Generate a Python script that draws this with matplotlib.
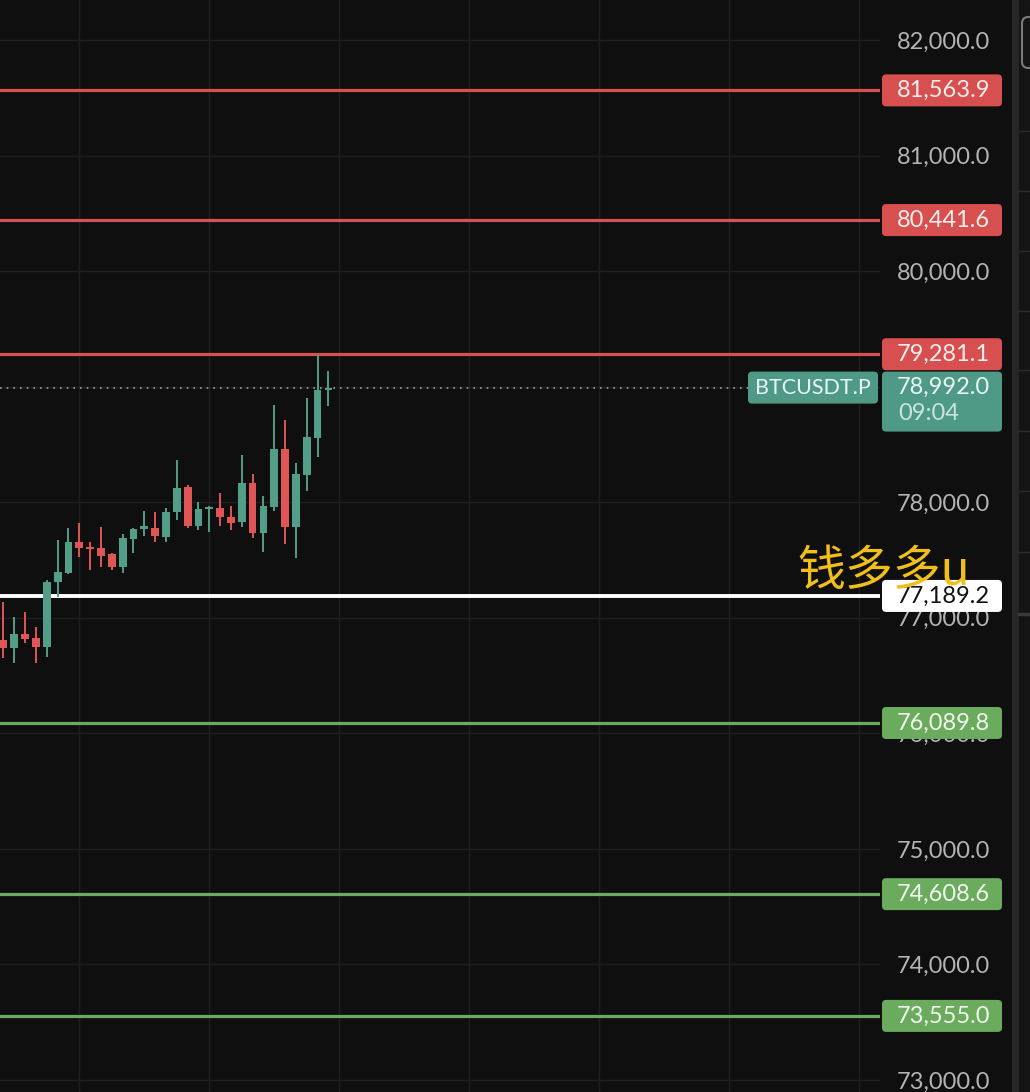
import numpy as np
import matplotlib
matplotlib.use("Agg")
import matplotlib.pyplot as plt
from matplotlib.patches import FancyBboxPatch, Rectangle
from matplotlib.lines import Line2D
from matplotlib.transforms import blended_transform_factory

# velas (OHLC)
opens = [76808, 76739, 76860, 76825, 76747, 77310, 77388, 77656, 77613, 77604, 77552,
         77440, 77682, 77768, 77777, 77699, 77916, 78132, 77794, 77942, 77950, 77872,
         77829, 78166, 77734, 77959, 78461, 77786, 78236, 78556, 78971]
highs = [77137, 77007, 77050, 76920, 77327, 77673, 77777, 77820, 77656, 77786, 77561,
         77725, 77777, 77924, 77916, 77950, 78366, 78149, 78002, 77967, 78080, 77967,
         78409, 78244, 78054, 78842, 78712, 78340, 78902, 79275, 79136]
lows = [76652, 76609, 76782, 76609, 76661, 77180, 77380, 77526, 77414, 77440, 77414,
        77388, 77561, 77708, 77656, 77656, 77846, 77777, 77760, 77742, 77794, 77760,
        77786, 77691, 77569, 77924, 77639, 77517, 78097, 78392, 78833]
closes = [76739, 76860, 76817, 76747, 77310, 77396, 77656, 77604, 77595, 77535, 77440,
          77691, 77768, 77794, 77708, 77916, 78123, 77794, 77942, 77959, 77872, 77820,
          78166, 77734, 77967, 78461, 77786, 78244, 78565, 78971, 78992]

# niveles
resistencias = [81563.9, 80441.6, 79281.1]
soportes = [76089.8, 74608.6, 73555.0]
pivote = 77189.2
precio_actual = 78992.0
simbolo = "BTCUSDT.P"
tiempo = "09:04"
ticks_precio = [73000, 74000, 75000, 76000, 77000, 78000, 79000, 80000, 81000, 82000]
marca = "钱多多u"

BG = "#0f0f0f"
VERDE = "#529e88"
ROJO = "#e05656"
ROJO_LINEA = "#d95050"
VERDE_LINEA = "#6caa60"

W, H = 1030, 1092
fig = plt.figure(figsize=(W / 100, H / 100), dpi=100, facecolor=BG)
ax = fig.add_axes([0, 0, 880 / W, 1])
ax.set_facecolor(BG)

# escala de precios
ymin, ymax = 72896.5, 82346.0
ax.set_ylim(ymin, ymax)
ax.set_xlim(-0.323, 80.93)
datos_por_px = (ymax - ymin) / H

for s in ax.spines.values():
    s.set_visible(False)

# rejilla
ax.set_axisbelow(True)
ax.set_yticks(ticks_precio)
ax.set_yticklabels(["{:,.1f}".format(t) for t in ticks_precio])
ax.set_xticks([7, 19, 31, 43, 55, 67, 79])
ax.set_xticklabels([])
ax.grid(True, color="#1f1f1f", linewidth=1.0)
ax.yaxis.tick_right()
ax.tick_params(axis="y", length=0, pad=79.2, labelsize=17, labelcolor="#b4b4b4")
ax.tick_params(axis="x", length=0)
for lab in ax.get_yticklabels():
    lab.set_horizontalalignment("right")
    lab.set_fontfamily("Lato")

# velas
x = np.arange(len(opens))
o = np.array(opens, dtype=float)
c = np.array(closes, dtype=float)
colores = [VERDE if cc >= oo else ROJO for oo, cc in zip(o, c)]
altura = c - o
altura = np.where(np.abs(altura) < 14, np.where(altura >= 0, 14, -14), altura)
ax.vlines(x, lows, highs, colors=colores, linewidth=1.4, zorder=3)
ax.bar(x, altura, bottom=o, width=0.72, color=colores, zorder=4, linewidth=0)

# lineas horizontales
for r in resistencias:
    ax.axhline(r, color=ROJO_LINEA, linewidth=2.3, zorder=2)
for sp in soportes:
    ax.axhline(sp, color=VERDE_LINEA, linewidth=2.3, zorder=2)
ax.axhline(pivote, color="white", linewidth=2.8, zorder=2)

trans = blended_transform_factory(fig.transFigure, ax.transData)
ax.plot([0, 748 / W], [precio_actual, precio_actual], transform=trans,
        color="#8fa89f", linewidth=1.2, linestyle=(0, (1, 3)), zorder=2)

aspecto = datos_por_px * W


def etiqueta(y, texto, fondo, color_txt, x0=882, x1=1002, arriba=16, abajo=16,
             ha="right", xt=990, tam=17):
    caja = FancyBboxPatch((x0 / W, y - abajo * datos_por_px), (x1 - x0) / W,
                          (arriba + abajo) * datos_por_px,
                          boxstyle="round,pad=0,rounding_size=0.004",
                          mutation_aspect=aspecto, transform=trans,
                          facecolor=fondo, edgecolor="none", clip_on=False, zorder=6)
    ax.add_patch(caja)
    ax.text(xt / W, y, texto, transform=trans, ha=ha, va="center", fontsize=tam,
            color=color_txt, family="Lato", clip_on=False, zorder=7)


for r in resistencias:
    etiqueta(r, "{:,.1f}".format(r), "#d84f4f", "#f7eeee")
for sp in soportes:
    etiqueta(sp, "{:,.1f}".format(sp), "#6aab5e", "#f2f8ef")
etiqueta(pivote, "{:,.1f}".format(pivote), "white", "#111111")

# precio actual con contador
etiqueta(precio_actual, "{:,.1f}".format(precio_actual), "#4f9a86", "#eaf6f2",
         abajo=44)
ax.text(898 / W, precio_actual - 26 * datos_por_px, tiempo, transform=trans,
        ha="left", va="center", fontsize=17, color="#c9e6dc", family="Lato",
        clip_on=False, zorder=7)
etiqueta(precio_actual, simbolo, "#4f9a86", "#eaf6f2", x0=748, x1=878,
         ha="center", xt=813, tam=15.5)

# panel derecho
fig.add_artist(Rectangle((1012 / W, 0), 7 / W, 1, transform=fig.transFigure,
                         facecolor="#262626", edgecolor="none"))
fig.add_artist(Rectangle((1019 / W, 0), 11 / W, 1, transform=fig.transFigure,
                         facecolor="#141414", edgecolor="none"))
for yp in [131, 191, 251, 311, 370, 431, 491, 552]:
    fig.add_artist(Line2D([1019 / W, 1], [1 - yp / H, 1 - yp / H],
                          transform=fig.transFigure, color="#2c2c2c", linewidth=1.0))
fig.add_artist(Line2D([1019 / W, 1], [1 - 614 / H, 1 - 614 / H],
                      transform=fig.transFigure, color="#3a3a3a", linewidth=2.5))
fig.add_artist(FancyBboxPatch((1022 / W, 1 - 68 / H), 20 / W, 51 / H,
                              boxstyle="round,pad=0,rounding_size=0.006",
                              transform=fig.transFigure, facecolor="none",
                              edgecolor="#7a7a7a", linewidth=1.5))

# marca de agua
fig.text(797 / W, 1 - 571 / H, marca, color="#f0bf1c", fontsize=34.5,
         family=["Noto Sans CJK SC", "DejaVu Sans"], ha="left", va="center",
         zorder=10)

fig.savefig("out.png", dpi=100, facecolor=BG)
